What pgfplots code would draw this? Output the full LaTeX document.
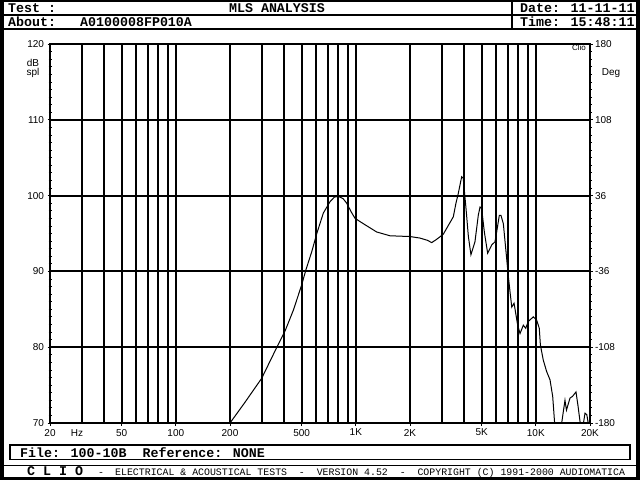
\documentclass[border=0pt]{standalone}
\usepackage{fontspec}
\setmainfont{Liberation Sans}
\newfontfamily\dosfont{Liberation Mono}
\usepackage{pgfplots}
\pgfplotsset{compat=1.18}

% frequency response (Hz, dB spl)
\pgfplotstableread{
f      db
200    70.0
240    72.6
300    75.9
366    80.1
407    82.3
450    84.9
500    88.2
528    90.2
569    92.6
607    95.0
660    97.7
719    99.2
760    99.8
800    99.9
850    99.6
890    99.0
940    97.9
990    97.0
1100   96.3
1306   95.2
1548   94.7
2000   94.6
2270   94.4
2500   94.1
2640   93.8
2800   94.2
3060   94.9
3200   95.7
3480   97.2
3600   99.0
3710   100.3
3874   102.5
3950   102.3
4094   98.3
4220   94.6
4360   92.2
4590   93.9
4790   97.4
4898   98.5
5000   98.3
5176   95.2
5400   92.4
5690   93.5
5930   93.9
6060   95.2
6270   97.4
6400   97.4
6600   96.3
6900   91.5
7040   89.3
7190   87.3
7350   85.3
7570   85.8
7730   84.5
7930   82.9
8170   81.8
8520   82.9
8790   82.5
9080   83.4
9680   84.0
10100  83.6
10450  82.5
10600  80.3
11000  78.3
11480  76.8
11990  75.7
12410  73.5
12700  70.2
13000  68.5
13600  68.5
13920  70.0
14520  73.0
14800  71.7
15490  73.3
15970  73.5
16720  74.1
17170  72.2
17600  70.2
18100  68.9
18760  71.3
19200  71.1
19900  68.9
}\response

\pgfplotsset{
    clioaxis/.style={
        at={(50pt,-423pt)}, anchor=south west,
        scale only axis, width=540pt, height=379pt,
        axis line style={line width=2pt},
        tick style={black, line width=0.8pt},
        tick align=center,
        major tick length=5pt, minor tick length=3pt,
        tick label style={font=\fontsize{10}{10}\selectfont},
    }
}

\begin{document}
\begin{tikzpicture}
\begin{scope}[x=1pt,y=-1pt]
\useasboundingbox (0,0) rectangle (640,480);
\fill[white] (0,0) rectangle (640,480);
% outer frame
\fill[black] (0,0) rectangle (4,480);
\fill[black] (636,0) rectangle (640,480);
\fill[black] (0,0) rectangle (640,2);
\fill[black] (0,477) rectangle (640,480);
% header
\draw[line width=1.5pt] (0,15) -- (640,15);
\draw[line width=1.5pt] (0,29) -- (640,29);
\draw[line width=1.5pt] (512,0) -- (512,29);
\begin{scope}[font=\dosfont\bfseries\fontsize{13.3}{14}\selectfont]
\node[anchor=base west, inner sep=0] at (8,12) {Test :};
\node[anchor=base, inner sep=0] at (277,12) {MLS ANALYSIS};
\node[anchor=base west, inner sep=0] at (520,12) {Date: 11-11-11};
\node[anchor=base west, inner sep=0] at (8,26) {About:};
\node[anchor=base west, inner sep=0] at (80,26) {A0100008FP010A};
\node[anchor=base west, inner sep=0] at (520,26) {Time: 15:48:11};
% file box
\draw[line width=1.5pt] (10,445) rectangle (630,459.5);
\node[anchor=base west, inner sep=0] at (20,457) {File: 100-10B\ \ Reference: NONE};
% footer
\draw[line width=1.5pt] (0,465.5) -- (640,465.5);
\node[anchor=base west, inner sep=0] at (27,475.5) {C L I O};
\end{scope}
\begin{scope}[font=\dosfont\fontsize{9.88}{10}\selectfont]
\node[anchor=base, inner sep=0] at (101,475) {-};
\node[anchor=base west, inner sep=0] at (115,475) {ELECTRICAL \& ACOUSTICAL TESTS\ \ -\ \ VERSION 4.52\ \ -\ \ COPYRIGHT (C) 1991-2000 AUDIOMATICA};
\end{scope}
% axis captions
\begin{scope}[font=\fontsize{10}{10}\selectfont]
\node[inner sep=0] at (33,63) {dB};
\node[inner sep=0] at (33,73) {spl};
\node[inner sep=0] at (611,73) {Deg};
\node[inner sep=0] at (77,433) {Hz};
\end{scope}
\node[inner sep=0, font=\fontsize{8}{8}\selectfont] at (579,48) {Clio};
\end{scope}

\begin{axis}[
    clioaxis,
    xmode=log, log basis x=10,
    xmin=20, xmax=20000, ymin=70, ymax=120,
    xtick={20,50,100,200,500,1000,2000,5000,10000,20000},
    xticklabels={20,50,100,200,500,1K,2K,5K,10K,20K},
    extra x ticks={30,40,60,70,80,90,300,400,600,700,800,900,3000,4000,6000,7000,8000,9000},
    extra x tick labels={},
    extra x tick style={grid=major, major tick length=0pt},
    minor x tick num=0,
    ytick={70,80,90,100,110,120},
    yticklabels={70,80,90,100,110,120},
    minor y tick num=9,
    xtick pos=bottom, ytick pos=left,
    xmajorgrids, ymajorgrids,
    grid style={black, line width=2pt},
]
\addplot[black, line width=1pt] table[x=f, y=db] {\response};
\end{axis}

\begin{axis}[
    clioaxis,
    xmin=0, xmax=1, ymin=-180, ymax=180,
    axis x line=none, axis y line*=right,
    ytick={-180,-108,-36,36,108,180},
    yticklabels={-180,-108,-36,36,108,180},
    minor y tick num=9,
    yticklabel style={anchor=west, xshift=-1pt},
]
\addplot[draw=none] coordinates {(0,0)};
\end{axis}
\end{tikzpicture}
\end{document}
